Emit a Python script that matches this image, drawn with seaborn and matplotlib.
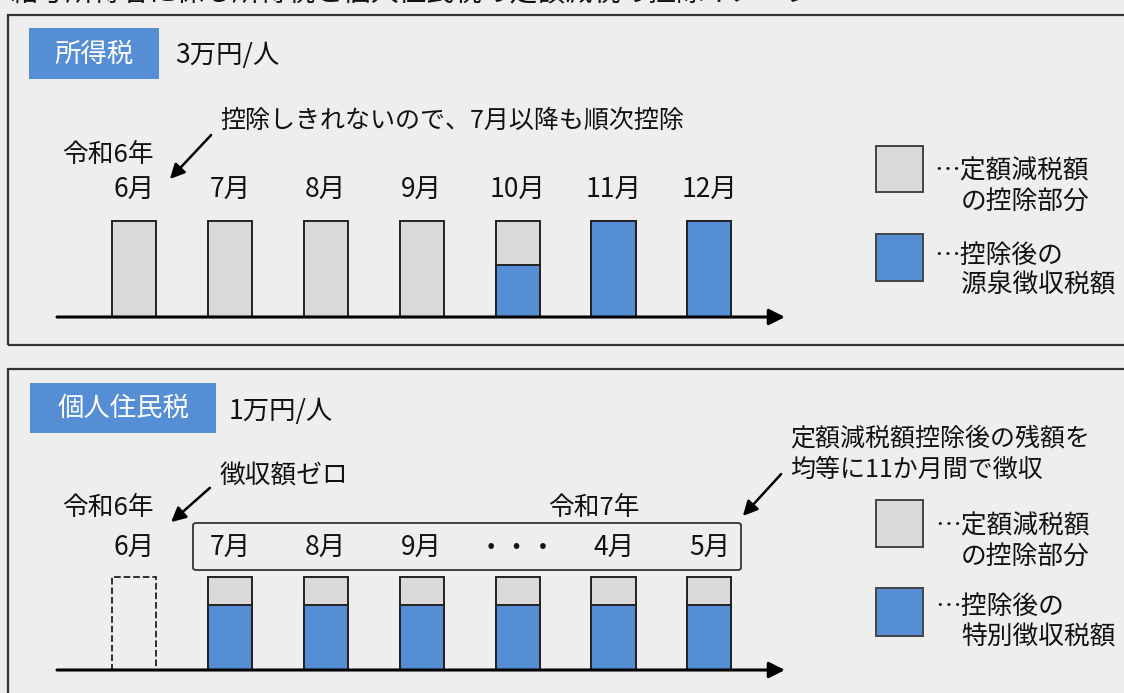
import matplotlib
matplotlib.use('Agg')
import matplotlib.pyplot as plt
import seaborn as sns
import pandas as pd
from matplotlib.patches import Rectangle, FancyBboxPatch, FancyArrowPatch

# データ（バーの高さは「1か月分の税額」を1とした相対値）
months_it = ['6月', '7月', '8月', '9月', '10月', '11月', '12月']
it_deduct = [1.0, 1.0, 1.0, 1.0, 0.46, 0.0, 0.0]      # 定額減税額の控除部分
it_withheld = [0.0, 0.0, 0.0, 0.0, 0.54, 1.0, 1.0]    # 控除後の源泉徴収税額

months_rt = ['6月', '7月', '8月', '9月', '・・・', '4月', '5月']
rt_deduct = [0.0, 0.30, 0.30, 0.30, 0.30, 0.30, 0.30]
rt_special = [0.0, 0.70, 0.70, 0.70, 0.70, 0.70, 0.70]  # 控除後の特別徴収税額
rt_zero = [1.0, 0, 0, 0, 0, 0, 0]                      # 6月は徴収額ゼロ（点線）

GRAY = '#d9d9d9'
BLUE = '#558ed5'
W, H = 1124, 693

sns.set_theme(style='white')
plt.rcParams['font.family'] = ['Noto Sans CJK JP', 'DejaVu Sans']
plt.rcParams['axes.unicode_minus'] = False

fig = plt.figure(figsize=(W / 100, H / 100), dpi=100)
fig.patch.set_facecolor('#eeeeee')


def fx(x):
    return x / W


def fy(y):
    return 1 - y / H


def txt(x, y, s, size=18.5, **kw):
    fig.text(fx(x), fy(y), s, fontsize=size, ha=kw.pop('ha', 'left'),
             va=kw.pop('va', 'center'), color=kw.pop('color', '#111111'), **kw)


def arrow(p0, p1):
    fig.add_artist(FancyArrowPatch((fx(p0[0]), fy(p0[1])), (fx(p1[0]), fy(p1[1])),
                                   transform=fig.transFigure, arrowstyle='-|>',
                                   mutation_scale=22, lw=1.8, color='black'))


def panel_axes(left, right, bottom, top):
    ax = fig.add_axes([fx(left), fy(bottom), fx(right - left), (bottom - top) / H])
    ax.set_facecolor('none')
    return ax


def finish_axes(ax, months, bottom, top, unit_px, pad):
    # カテゴリ中心 134px, 間隔 95.9px, 軸線は 57px〜785px
    ax.set_xlim((57 - 134) / 95.9, (785 - 134) / 95.9)
    ax.set_ylim(0, (bottom - top) / unit_px)
    ax.set_xlabel('')
    ax.set_ylabel('')
    ax.set_yticks([])
    ax.set_xticks(range(len(months)))
    ax.set_xticklabels(months, fontsize=19, color='#111111')
    ax.xaxis.tick_top()
    ax.tick_params(axis='x', length=0, pad=pad)
    for s in ax.spines.values():
        s.set_visible(False)
    ax.annotate('', xy=(1.0, 0), xytext=(0, 0), xycoords='axes fraction',
                arrowprops=dict(arrowstyle='-|>', lw=2.2, color='black',
                                mutation_scale=24, shrinkA=0, shrinkB=0))


# ---- 見出し（上端で切れている） ----
txt(10, 8, '給与所得者に係る所得税と個人住民税の定額減税の控除イメージ', size=20, va='bottom')

# ---- パネル枠 ----
fig.add_artist(Rectangle((fx(8), fy(345)), fx(1130), (345 - 15) / H, transform=fig.transFigure,
                         fill=False, edgecolor='#333333', lw=1.6))
fig.add_artist(Rectangle((fx(8), fy(710)), fx(1130), (710 - 369) / H, transform=fig.transFigure,
                         fill=False, edgecolor='#333333', lw=1.6))

# ================= 所得税 =================
fig.add_artist(Rectangle((fx(29), fy(79)), fx(130), 51 / H, transform=fig.transFigure,
                         facecolor=BLUE, edgecolor='none'))
txt(94, 54, '所得税', color='white', ha='center', size=19)
txt(175, 56, '3万円/人', size=19)

ax1 = panel_axes(57, 785, 317, 211)
df1 = pd.DataFrame({'month': months_it, 'deduct': it_deduct, 'withheld': it_withheld})
df1['total'] = df1['deduct'] + df1['withheld']
sns.barplot(data=df1, x='month', y='total', order=months_it, color=GRAY, saturation=1,
            width=0.46, edgecolor='#222222', linewidth=1.4, ax=ax1)
sns.barplot(data=df1, x='month', y='withheld', order=months_it, color=BLUE, saturation=1,
            width=0.46, edgecolor='#222222', linewidth=1.4, ax=ax1)
finish_axes(ax1, months_it, 317, 211, 96, 5)

txt(220, 121, '控除しきれないので、7月以降も順次控除', size=18)
txt(62, 155, '令和6年', size=18.5)
arrow((213, 133), (168, 181))

# 凡例
fig.add_artist(Rectangle((fx(876), fy(192)), fx(47), 46 / H, transform=fig.transFigure,
                         facecolor=GRAY, edgecolor='#444444', lw=1.4))
fig.add_artist(Rectangle((fx(876), fy(281)), fx(47), 47 / H, transform=fig.transFigure,
                         facecolor=BLUE, edgecolor='#444444', lw=1.4))
txt(934, 172, '…定額減税額')
txt(961, 203, 'の控除部分')
txt(934, 256, '…控除後の')
txt(961, 286, '源泉徴収税額')

# ================= 個人住民税 =================
fig.add_artist(Rectangle((fx(30), fy(433)), fx(186), 50 / H, transform=fig.transFigure,
                         facecolor=BLUE, edgecolor='none'))
txt(123, 408, '個人住民税', color='white', ha='center', size=19)
txt(229, 411, '1万円/人', size=19)

ax2 = panel_axes(57, 785, 670, 566)
df2 = pd.DataFrame({'month': months_rt, 'deduct': rt_deduct, 'special': rt_special, 'zero': rt_zero})
df2['total'] = df2['deduct'] + df2['special']
sns.barplot(data=df2, x='month', y='zero', order=months_rt, color='none', fill=False,
            width=0.46, edgecolor='#222222', linewidth=1.3, linestyle='--', ax=ax2)
sns.barplot(data=df2, x='month', y='total', order=months_rt, color=GRAY, saturation=1,
            width=0.46, edgecolor='#222222', linewidth=1.4, ax=ax2)
sns.barplot(data=df2, x='month', y='special', order=months_rt, color=BLUE, saturation=1,
            width=0.46, edgecolor='#222222', linewidth=1.4, ax=ax2)
finish_axes(ax2, months_rt, 670, 566, 93, 3)

fig.add_artist(FancyBboxPatch((fx(193), fy(570)), fx(548), 47 / H, transform=fig.transFigure,
                              boxstyle='round,pad=0,rounding_size=0.003',
                              fill=False, edgecolor='#333333', lw=1.3))
txt(220, 477, '徴収額ゼロ', size=18.5)
txt(62, 508, '令和6年', size=18.5)
txt(548, 508, '令和7年', size=18.5)
arrow((212, 486), (169, 524))

txt(790, 439, '定額減税額控除後の残額を', size=18)
txt(790, 470, '均等に11か月間で徴収', size=18)
arrow((783, 472), (741, 518))

fig.add_artist(Rectangle((fx(876), fy(547)), fx(47), 47 / H, transform=fig.transFigure,
                         facecolor=GRAY, edgecolor='#444444', lw=1.4))
fig.add_artist(Rectangle((fx(876), fy(636)), fx(47), 48 / H, transform=fig.transFigure,
                         facecolor=BLUE, edgecolor='#444444', lw=1.4))
txt(935, 527, '…定額減税額')
txt(961, 558, 'の控除部分')
txt(935, 607, '…控除後の')
txt(961, 638, '特別徴収税額')

fig.savefig('out.png', dpi=100, facecolor=fig.get_facecolor())
